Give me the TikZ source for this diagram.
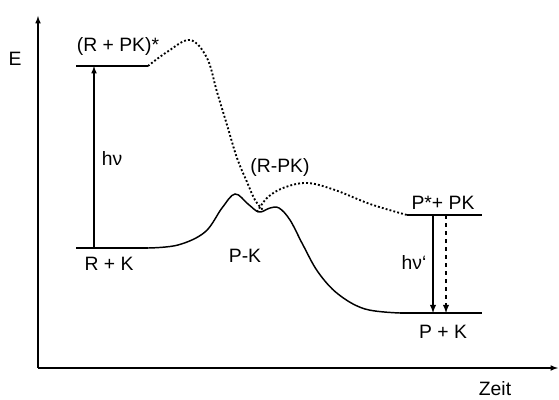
\documentclass[tikz,border=0pt]{standalone}
\usepackage{fontspec}
\setmainfont{Liberation Sans}
\begin{document}
\begin{tikzpicture}[x=0.75pt, y=-0.75pt, font=\fontsize{14.5}{16}\selectfont, >=latex,
    axis/.style={line width=0.9pt, ->},
    level/.style={line width=1.3pt},
    curve/.style={line width=1.1pt},
    dots/.style={line width=1.4pt, dash pattern=on 1.4pt off 1.6pt},
    lbl/.style={inner sep=1pt}]
  \useasboundingbox (0,0) rectangle (559,399);
  % axes
  \coordinate (o) at (38,368);
  \coordinate (ytop) at (38,16);
  \coordinate (xend) at (558,368);
  \draw[axis] (o) -- (ytop);
  \draw[axis] (o) -- (xend);
  \node[lbl] (e) at (15,59) {E};
  \node[lbl] (zeit) at (495,389) {Zeit};
  % energy levels
  \coordinate (rk1) at (76,248); \coordinate (rk2) at (148,248);
  \coordinate (rpk1) at (76,66); \coordinate (rpk2) at (148,66);
  \coordinate (pspk1) at (407,215); \coordinate (pspk2) at (482,215);
  \coordinate (pk1) at (400,313); \coordinate (pk2) at (482,313);
  \draw[level] (rk1) -- (rk2);
  \draw[level] (rpk1) -- (rpk2);
  \draw[level] (pspk1) -- (pspk2);
  \draw[level] (pk1) -- (pk2);
  \node[lbl] (rpklbl) at (118,46) {(R + PK)*};
  \node[lbl] (rklbl) at (109,264) {R + K};
  \node[lbl] (psplbl) at (443,203) {P*+ PK};
  \node[lbl] (pklbl) at (443,332) {P + K};
  \node[lbl] (rmpk) at (280,167) {(R-PK)};
  \node[lbl] (pmk) at (245,256) {P-K};
  % excitation and emission
  \coordinate (hv1) at (94,248); \coordinate (hv2) at (94,66);
  \draw[->, line width=0.9pt] (hv1) -- (hv2);
  \node[lbl] (hv) at (112,158) {hν};
  \coordinate (em1) at (433,215); \coordinate (em2) at (433,313);
  \coordinate (de1) at (446,215); \coordinate (de2) at (446,313);
  \draw[->, line width=1.1pt] (em1) -- (em2);
  \draw[->, line width=1.1pt, dashed] (de1) -- (de2);
  \node[lbl] (hvs) at (414,262) {hν‘};
  % ground state path
  \draw[curve] plot[smooth, tension=0.6] coordinates {(148,248) (178,245) (205,232) (222,208) (235,194)
    (248,204) (259,212) (270,208) (279,208) (290,220) (303,245) (318,272) (338,294) (365,309) (400,313)};
  % excited state path
  \draw[dots] plot[smooth, tension=0.6] coordinates {(148,66) (167,52) (190,40) (207,58)
    (217,92) (227,125) (237,158) (247,182) (255,200) (263,210)};
  \draw[dots] plot[smooth, tension=0.6] coordinates {(257,212) (267,198) (283,188) (307,183)
    (335,190) (370,204) (407,215)};
\end{tikzpicture}
\end{document}
